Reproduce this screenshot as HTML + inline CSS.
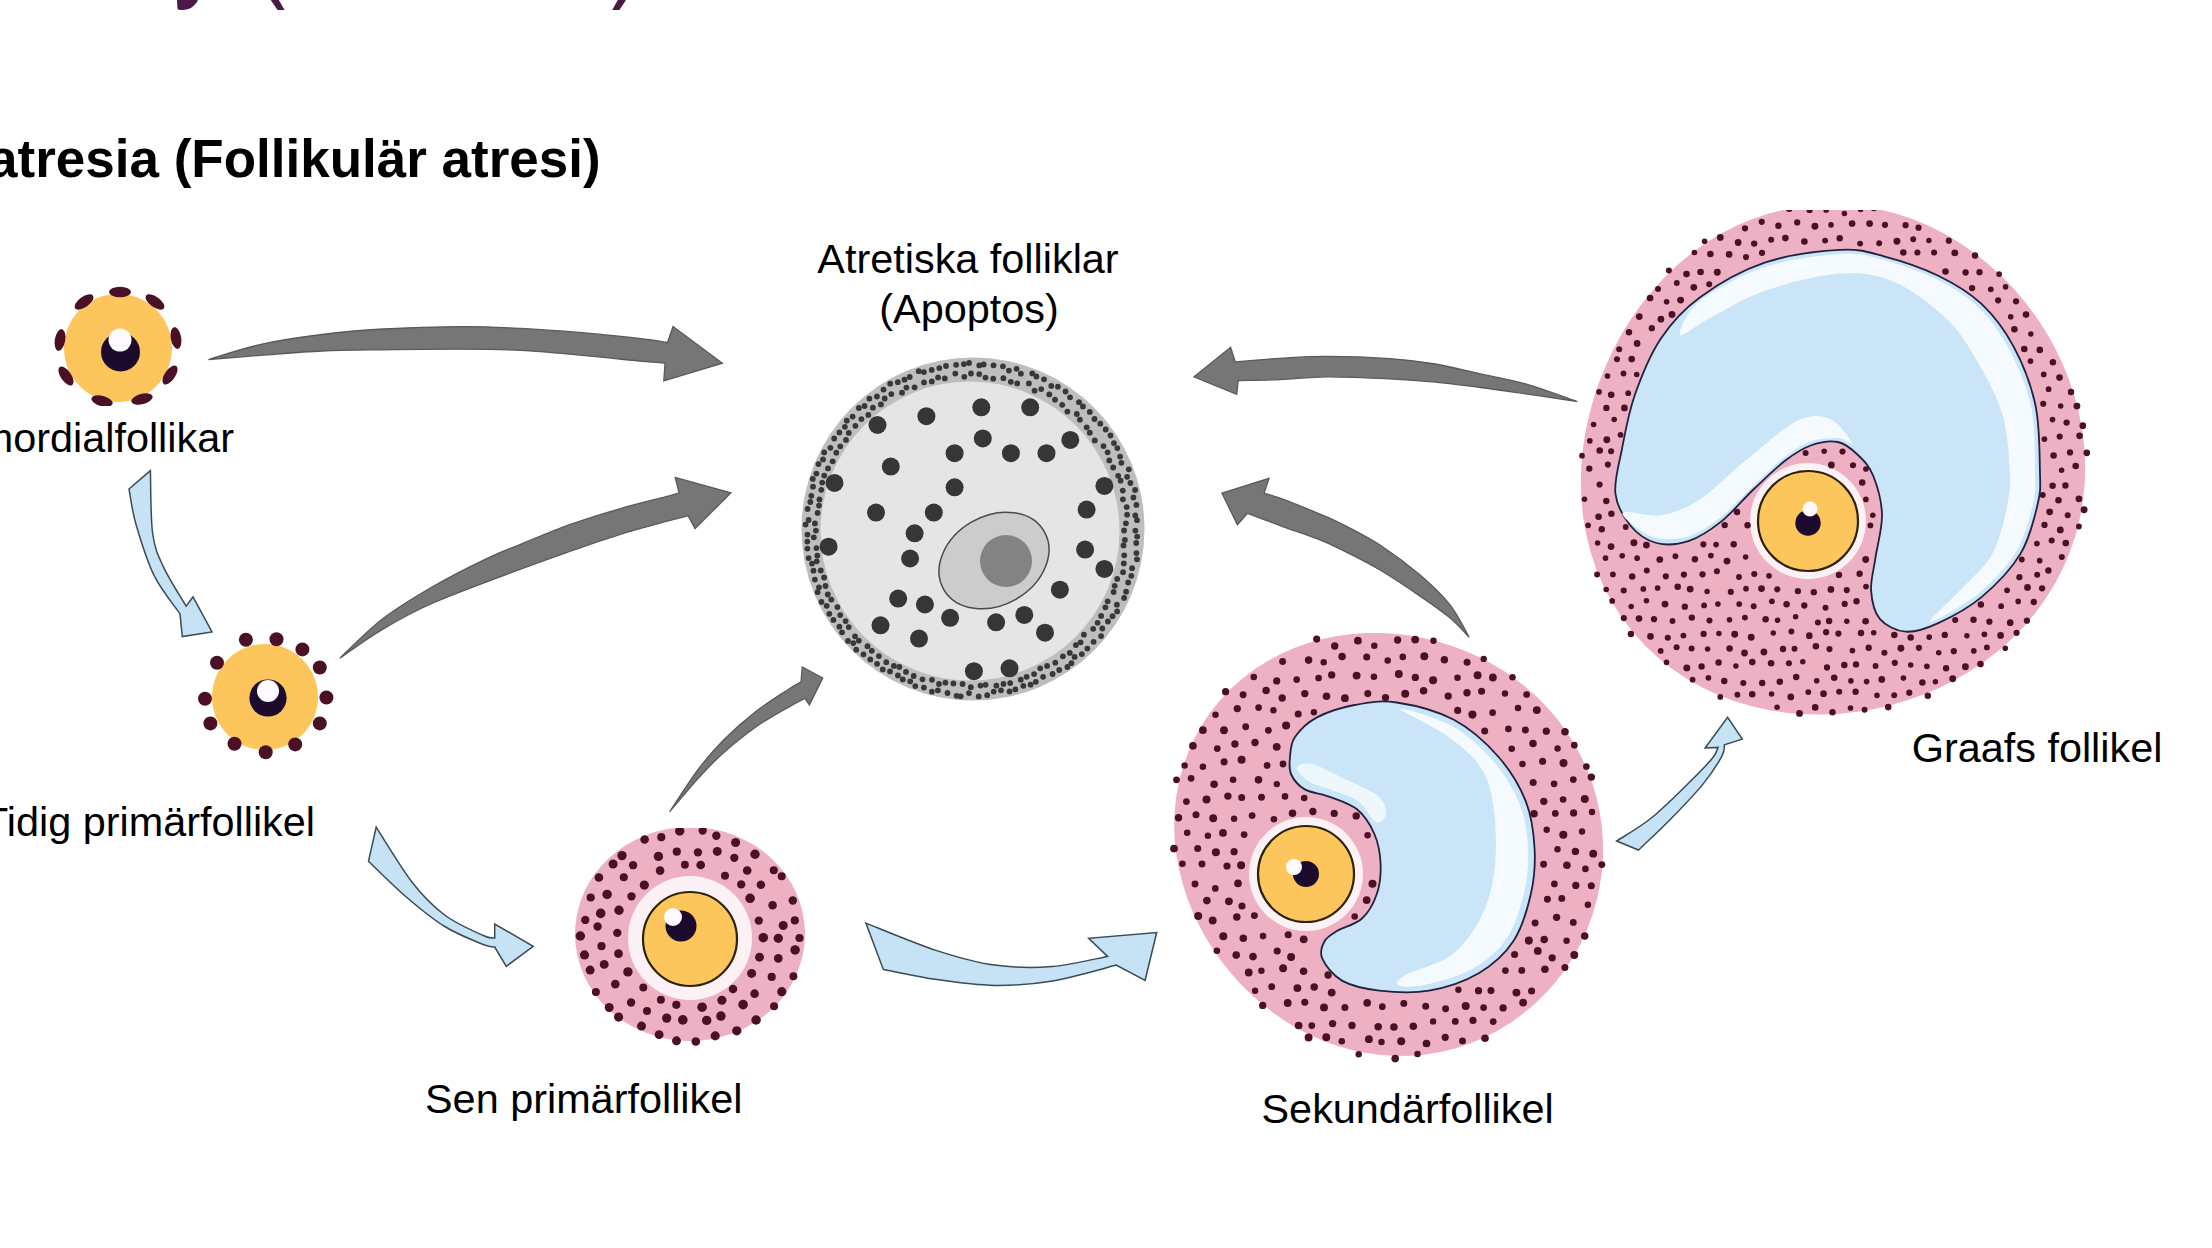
<!DOCTYPE html><html><head><meta charset="utf-8"><style>html,body{margin:0;padding:0;background:#fff;width:2212px;height:1248px;overflow:hidden}svg{position:absolute;left:0;top:0}text{font-family:"Liberation Sans",sans-serif}</style></head><body>
<svg width="2212" height="1248" viewBox="0 0 2212 1248">
<g fill="#4a1947">
<path d="M177,0 L198,0 C195,6 190,10 182,10 C179,10 178,9.5 177.5,9 Z"/>
<path d="M270.7,0 L278.8,0 L284.6,10 L277.6,10 Z"/>
<path d="M617.8,0 L626,0 L619.4,10 L612.2,10 Z"/>
</g>
<text x="-12" y="177" font-size="53" font-weight="bold" fill="#000">atresia (Follikulär atresi)</text>
<circle cx="118" cy="348" r="54" fill="#fcc65d"/>
<g fill="#4a1026">
<ellipse cx="120" cy="292" rx="11" ry="5.2" transform="rotate(0 120 292)"/>
<ellipse cx="84" cy="302" rx="11" ry="5.2" transform="rotate(-35 84 302)"/>
<ellipse cx="155" cy="302" rx="11" ry="5.2" transform="rotate(35 155 302)"/>
<ellipse cx="60" cy="340" rx="11" ry="5.2" transform="rotate(-80 60 340)"/>
<ellipse cx="176" cy="338" rx="11" ry="5.2" transform="rotate(80 176 338)"/>
<ellipse cx="66" cy="376" rx="11" ry="5.2" transform="rotate(-125 66 376)"/>
<ellipse cx="170" cy="375" rx="11" ry="5.2" transform="rotate(125 170 375)"/>
<ellipse cx="102" cy="401" rx="11" ry="5.2" transform="rotate(-165 102 401)"/>
<ellipse cx="142" cy="399" rx="11" ry="5.2" transform="rotate(165 142 399)"/>
</g>
<circle cx="120.5" cy="352" r="19.5" fill="#1c0b2c"/><circle cx="120" cy="340" r="11.5" fill="#fdfbff"/>
<rect x="0" y="406" width="405" height="62" fill="#fff"/>
<circle cx="265" cy="697" r="53" fill="#fcc65d"/>
<g fill="#4a1026">
<circle cx="245.9" cy="639.8" r="7"/>
<circle cx="276.5" cy="639.2" r="7"/>
<circle cx="302.4" cy="649.4" r="7"/>
<circle cx="319.8" cy="667.5" r="7"/>
<circle cx="326.4" cy="697.5" r="7"/>
<circle cx="319.8" cy="723.4" r="7"/>
<circle cx="295.2" cy="744.4" r="7"/>
<circle cx="265.7" cy="752.2" r="7"/>
<circle cx="234.5" cy="743.8" r="7"/>
<circle cx="210.4" cy="723.4" r="7"/>
<circle cx="205.0" cy="698.7" r="7"/>
<circle cx="217.0" cy="662.7" r="7"/>
</g>
<circle cx="268" cy="698" r="18.6" fill="#1c0b2c"/><circle cx="268" cy="691" r="11" fill="#fdfbff"/>
<ellipse cx="690" cy="934" rx="115" ry="107" fill="#eeb1c3"/>
<circle cx="690" cy="938" r="62" fill="#fcf1f5"/>
<g fill="#4a1026">
<circle cx="763.3" cy="937.7" r="4.77"/>
<circle cx="759.5" cy="957.2" r="4.48"/>
<circle cx="751.6" cy="973.4" r="4.51"/>
<circle cx="733.0" cy="989.1" r="4.23"/>
<circle cx="721.9" cy="1000.3" r="4.57"/>
<circle cx="702.1" cy="1007.2" r="4.81"/>
<circle cx="676.3" cy="1004.8" r="4.10"/>
<circle cx="660.9" cy="999.8" r="4.01"/>
<circle cx="643.3" cy="987.4" r="3.99"/>
<circle cx="627.9" cy="971.9" r="4.70"/>
<circle cx="618.5" cy="953.7" r="4.40"/>
<circle cx="617.3" cy="932.9" r="4.20"/>
<circle cx="619.0" cy="910.3" r="4.70"/>
<circle cx="631.5" cy="896.3" r="4.16"/>
<circle cx="644.3" cy="885.1" r="4.63"/>
<circle cx="660.1" cy="870.6" r="4.30"/>
<circle cx="684.9" cy="864.8" r="3.96"/>
<circle cx="700.7" cy="865.0" r="4.37"/>
<circle cx="725.0" cy="875.8" r="4.02"/>
<circle cx="741.2" cy="884.4" r="4.20"/>
<circle cx="750.1" cy="898.3" r="4.81"/>
<circle cx="758.8" cy="920.6" r="4.18"/>
<circle cx="778.3" cy="938.3" r="4.66"/>
<circle cx="778.3" cy="958.3" r="4.35"/>
<circle cx="771.7" cy="976.9" r="4.08"/>
<circle cx="754.6" cy="993.7" r="4.33"/>
<circle cx="743.1" cy="1004.6" r="4.81"/>
<circle cx="720.9" cy="1016.1" r="4.74"/>
<circle cx="706.7" cy="1020.4" r="4.71"/>
<circle cx="682.8" cy="1019.9" r="4.83"/>
<circle cx="666.7" cy="1018.1" r="4.64"/>
<circle cx="647.0" cy="1010.9" r="4.02"/>
<circle cx="631.1" cy="1002.5" r="4.17"/>
<circle cx="615.3" cy="984.1" r="4.36"/>
<circle cx="604.2" cy="964.4" r="4.47"/>
<circle cx="601.5" cy="946.2" r="4.10"/>
<circle cx="597.6" cy="926.5" r="4.18"/>
<circle cx="600.7" cy="913.4" r="4.79"/>
<circle cx="607.1" cy="894.4" r="4.74"/>
<circle cx="623.8" cy="877.3" r="4.05"/>
<circle cx="633.1" cy="865.2" r="4.17"/>
<circle cx="658.4" cy="856.4" r="4.68"/>
<circle cx="676.8" cy="851.7" r="4.11"/>
<circle cx="697.9" cy="852.3" r="4.16"/>
<circle cx="717.3" cy="851.4" r="4.50"/>
<circle cx="734.3" cy="857.8" r="4.14"/>
<circle cx="747.2" cy="870.5" r="4.35"/>
<circle cx="760.9" cy="884.8" r="4.28"/>
<circle cx="772.6" cy="905.2" r="4.28"/>
<circle cx="783.2" cy="925.5" r="4.54"/>
<circle cx="799.5" cy="938.0" r="4.08"/>
<circle cx="795.1" cy="949.9" r="4.76"/>
<circle cx="793.4" cy="976.3" r="3.98"/>
<circle cx="781.8" cy="991.7" r="4.60"/>
<circle cx="774.1" cy="1006.2" r="4.03"/>
<circle cx="756.1" cy="1020.0" r="4.75"/>
<circle cx="736.8" cy="1030.8" r="4.66"/>
<circle cx="715.2" cy="1035.9" r="4.56"/>
<circle cx="695.8" cy="1041.5" r="4.33"/>
<circle cx="676.5" cy="1040.8" r="4.46"/>
<circle cx="659.1" cy="1034.6" r="4.47"/>
<circle cx="641.5" cy="1026.1" r="4.52"/>
<circle cx="618.6" cy="1017.1" r="4.60"/>
<circle cx="609.2" cy="1007.5" r="4.47"/>
<circle cx="595.9" cy="992.1" r="4.03"/>
<circle cx="590.1" cy="970.1" r="4.49"/>
<circle cx="584.5" cy="954.9" r="4.57"/>
<circle cx="580.3" cy="936.0" r="4.77"/>
<circle cx="585.3" cy="919.9" r="4.22"/>
<circle cx="590.7" cy="897.5" r="4.11"/>
<circle cx="598.9" cy="877.5" r="4.35"/>
<circle cx="613.1" cy="864.0" r="4.55"/>
<circle cx="622.0" cy="855.6" r="4.67"/>
<circle cx="644.6" cy="839.5" r="4.30"/>
<circle cx="661.3" cy="837.2" r="4.08"/>
<circle cx="679.7" cy="831.0" r="4.71"/>
<circle cx="702.7" cy="830.6" r="4.20"/>
<circle cx="716.3" cy="835.8" r="4.20"/>
<circle cx="735.6" cy="842.5" r="4.51"/>
<circle cx="755.0" cy="854.2" r="4.70"/>
<circle cx="773.8" cy="870.2" r="4.03"/>
<circle cx="781.7" cy="876.2" r="4.00"/>
<circle cx="792.8" cy="900.5" r="4.23"/>
<circle cx="794.8" cy="920.4" r="4.08"/>
</g>
<rect x="560" y="790" width="260" height="38" fill="#fff"/>
<circle cx="690" cy="939" r="47" fill="#fcc65d" stroke="#2b2208" stroke-width="2.2"/>
<circle cx="681" cy="926" r="15.5" fill="#1c0b2c"/><circle cx="673" cy="917" r="9" fill="#fdfbff"/>
<circle cx="973" cy="529" r="171.5" fill="#bebebe"/>
<circle cx="970" cy="531" r="149.5" fill="#e5e5e5"/>
<g fill="#383838">
<circle cx="1124.1" cy="530.5" r="2.9"/>
<circle cx="1124.9" cy="539.9" r="2.9"/>
<circle cx="1123.5" cy="545.4" r="2.9"/>
<circle cx="1124.2" cy="555.3" r="2.9"/>
<circle cx="1123.8" cy="563.4" r="2.9"/>
<circle cx="1123.1" cy="572.2" r="2.9"/>
<circle cx="1117.2" cy="578.9" r="2.9"/>
<circle cx="1114.7" cy="585.8" r="2.9"/>
<circle cx="1113.6" cy="592.0" r="2.9"/>
<circle cx="1107.7" cy="601.3" r="2.9"/>
<circle cx="1105.4" cy="607.3" r="2.9"/>
<circle cx="1101.1" cy="615.9" r="2.9"/>
<circle cx="1097.6" cy="622.8" r="2.9"/>
<circle cx="1093.2" cy="628.8" r="2.9"/>
<circle cx="1083.9" cy="634.7" r="2.9"/>
<circle cx="1080.6" cy="642.3" r="2.9"/>
<circle cx="1075.9" cy="645.1" r="2.9"/>
<circle cx="1069.8" cy="652.9" r="2.9"/>
<circle cx="1062.9" cy="656.3" r="2.9"/>
<circle cx="1055.3" cy="662.7" r="2.9"/>
<circle cx="1047.1" cy="665.9" r="2.9"/>
<circle cx="1040.2" cy="668.3" r="2.9"/>
<circle cx="1034.1" cy="674.1" r="2.9"/>
<circle cx="1026.6" cy="676.8" r="2.9"/>
<circle cx="1020.8" cy="679.7" r="2.9"/>
<circle cx="1010.2" cy="683.1" r="2.9"/>
<circle cx="1003.5" cy="683.9" r="2.9"/>
<circle cx="996.4" cy="685.7" r="2.9"/>
<circle cx="985.6" cy="684.8" r="2.9"/>
<circle cx="980.5" cy="685.6" r="2.9"/>
<circle cx="970.8" cy="687.2" r="2.9"/>
<circle cx="962.6" cy="684.0" r="2.9"/>
<circle cx="953.4" cy="683.4" r="2.9"/>
<circle cx="945.4" cy="682.7" r="2.9"/>
<circle cx="939.0" cy="684.0" r="2.9"/>
<circle cx="932.0" cy="679.8" r="2.9"/>
<circle cx="922.5" cy="679.3" r="2.9"/>
<circle cx="913.7" cy="676.0" r="2.9"/>
<circle cx="906.0" cy="671.9" r="2.9"/>
<circle cx="899.3" cy="666.9" r="2.9"/>
<circle cx="893.9" cy="665.9" r="2.9"/>
<circle cx="886.3" cy="662.2" r="2.9"/>
<circle cx="878.9" cy="656.1" r="2.9"/>
<circle cx="871.8" cy="650.8" r="2.9"/>
<circle cx="867.5" cy="646.2" r="2.9"/>
<circle cx="858.8" cy="640.7" r="2.9"/>
<circle cx="855.0" cy="636.3" r="2.9"/>
<circle cx="848.7" cy="627.1" r="2.9"/>
<circle cx="845.6" cy="621.1" r="2.9"/>
<circle cx="840.2" cy="615.1" r="2.9"/>
<circle cx="837.4" cy="607.1" r="2.9"/>
<circle cx="831.3" cy="599.6" r="2.9"/>
<circle cx="827.8" cy="594.5" r="2.9"/>
<circle cx="825.5" cy="586.0" r="2.9"/>
<circle cx="824.1" cy="577.5" r="2.9"/>
<circle cx="820.8" cy="570.5" r="2.9"/>
<circle cx="816.7" cy="561.3" r="2.9"/>
<circle cx="817.3" cy="555.6" r="2.9"/>
<circle cx="816.4" cy="548.1" r="2.9"/>
<circle cx="813.8" cy="537.3" r="2.9"/>
<circle cx="815.9" cy="530.6" r="2.9"/>
<circle cx="814.9" cy="523.4" r="2.9"/>
<circle cx="817.6" cy="512.9" r="2.9"/>
<circle cx="819.0" cy="505.6" r="2.9"/>
<circle cx="819.4" cy="499.5" r="2.9"/>
<circle cx="821.3" cy="489.8" r="2.9"/>
<circle cx="822.2" cy="482.6" r="2.9"/>
<circle cx="824.2" cy="475.6" r="2.9"/>
<circle cx="828.0" cy="468.4" r="2.9"/>
<circle cx="832.7" cy="461.3" r="2.9"/>
<circle cx="836.3" cy="452.7" r="2.9"/>
<circle cx="840.3" cy="446.3" r="2.9"/>
<circle cx="846.0" cy="439.9" r="2.9"/>
<circle cx="848.8" cy="432.9" r="2.9"/>
<circle cx="855.4" cy="425.8" r="2.9"/>
<circle cx="861.4" cy="419.1" r="2.9"/>
<circle cx="868.3" cy="414.9" r="2.9"/>
<circle cx="872.9" cy="407.7" r="2.9"/>
<circle cx="880.9" cy="404.4" r="2.9"/>
<circle cx="884.7" cy="398.5" r="2.9"/>
<circle cx="891.3" cy="394.1" r="2.9"/>
<circle cx="902.0" cy="392.7" r="2.9"/>
<circle cx="906.4" cy="387.6" r="2.9"/>
<circle cx="914.6" cy="387.3" r="2.9"/>
<circle cx="924.0" cy="382.4" r="2.9"/>
<circle cx="931.8" cy="381.5" r="2.9"/>
<circle cx="938.1" cy="377.4" r="2.9"/>
<circle cx="944.8" cy="378.4" r="2.9"/>
<circle cx="955.3" cy="373.6" r="2.9"/>
<circle cx="964.3" cy="376.8" r="2.9"/>
<circle cx="971.0" cy="373.5" r="2.9"/>
<circle cx="979.2" cy="374.1" r="2.9"/>
<circle cx="985.5" cy="377.6" r="2.9"/>
<circle cx="993.2" cy="378.7" r="2.9"/>
<circle cx="1003.4" cy="378.2" r="2.9"/>
<circle cx="1010.8" cy="381.8" r="2.9"/>
<circle cx="1017.2" cy="383.4" r="2.9"/>
<circle cx="1028.9" cy="383.4" r="2.9"/>
<circle cx="1034.6" cy="390.7" r="2.9"/>
<circle cx="1041.2" cy="389.1" r="2.9"/>
<circle cx="1049.3" cy="394.4" r="2.9"/>
<circle cx="1055.0" cy="399.7" r="2.9"/>
<circle cx="1062.2" cy="404.8" r="2.9"/>
<circle cx="1067.4" cy="411.6" r="2.9"/>
<circle cx="1076.8" cy="414.0" r="2.9"/>
<circle cx="1079.9" cy="419.7" r="2.9"/>
<circle cx="1086.7" cy="427.3" r="2.9"/>
<circle cx="1089.8" cy="432.7" r="2.9"/>
<circle cx="1094.8" cy="440.4" r="2.9"/>
<circle cx="1103.5" cy="446.1" r="2.9"/>
<circle cx="1107.6" cy="452.3" r="2.9"/>
<circle cx="1109.3" cy="460.4" r="2.9"/>
<circle cx="1113.2" cy="467.5" r="2.9"/>
<circle cx="1118.2" cy="475.8" r="2.9"/>
<circle cx="1120.6" cy="480.7" r="2.9"/>
<circle cx="1122.8" cy="490.6" r="2.9"/>
<circle cx="1122.9" cy="499.3" r="2.9"/>
<circle cx="1126.7" cy="507.2" r="2.9"/>
<circle cx="1127.1" cy="514.7" r="2.9"/>
<circle cx="1125.9" cy="523.3" r="2.9"/>
<circle cx="1135.4" cy="530.6" r="2.9"/>
<circle cx="1137.2" cy="536.6" r="2.9"/>
<circle cx="1136.2" cy="543.0" r="2.9"/>
<circle cx="1136.4" cy="553.1" r="2.9"/>
<circle cx="1137.0" cy="559.3" r="2.9"/>
<circle cx="1132.1" cy="568.2" r="2.9"/>
<circle cx="1131.3" cy="575.8" r="2.9"/>
<circle cx="1128.2" cy="582.5" r="2.9"/>
<circle cx="1126.1" cy="591.7" r="2.9"/>
<circle cx="1124.1" cy="597.9" r="2.9"/>
<circle cx="1116.9" cy="604.7" r="2.9"/>
<circle cx="1117.1" cy="611.4" r="2.9"/>
<circle cx="1112.5" cy="616.2" r="2.9"/>
<circle cx="1107.9" cy="621.5" r="2.9"/>
<circle cx="1102.3" cy="628.5" r="2.9"/>
<circle cx="1101.1" cy="636.1" r="2.9"/>
<circle cx="1093.6" cy="641.8" r="2.9"/>
<circle cx="1087.3" cy="648.6" r="2.9"/>
<circle cx="1081.8" cy="654.1" r="2.9"/>
<circle cx="1074.6" cy="656.9" r="2.9"/>
<circle cx="1071.4" cy="663.2" r="2.9"/>
<circle cx="1067.4" cy="667.0" r="2.9"/>
<circle cx="1059.2" cy="670.0" r="2.9"/>
<circle cx="1052.6" cy="674.0" r="2.9"/>
<circle cx="1043.1" cy="676.8" r="2.9"/>
<circle cx="1035.8" cy="681.8" r="2.9"/>
<circle cx="1030.6" cy="684.7" r="2.9"/>
<circle cx="1023.3" cy="685.8" r="2.9"/>
<circle cx="1015.4" cy="689.4" r="2.9"/>
<circle cx="1009.6" cy="691.5" r="2.9"/>
<circle cx="1001.0" cy="690.3" r="2.9"/>
<circle cx="993.7" cy="691.6" r="2.9"/>
<circle cx="987.2" cy="695.2" r="2.9"/>
<circle cx="978.7" cy="696.4" r="2.9"/>
<circle cx="969.0" cy="693.1" r="2.9"/>
<circle cx="960.7" cy="696.3" r="2.9"/>
<circle cx="956.6" cy="695.8" r="2.9"/>
<circle cx="947.5" cy="693.0" r="2.9"/>
<circle cx="937.9" cy="690.3" r="2.9"/>
<circle cx="931.9" cy="691.7" r="2.9"/>
<circle cx="923.9" cy="687.6" r="2.9"/>
<circle cx="915.3" cy="686.1" r="2.9"/>
<circle cx="910.2" cy="681.3" r="2.9"/>
<circle cx="902.8" cy="679.4" r="2.9"/>
<circle cx="897.9" cy="675.4" r="2.9"/>
<circle cx="890.0" cy="671.4" r="2.9"/>
<circle cx="882.8" cy="669.4" r="2.9"/>
<circle cx="877.1" cy="663.8" r="2.9"/>
<circle cx="870.3" cy="659.4" r="2.9"/>
<circle cx="863.5" cy="654.3" r="2.9"/>
<circle cx="856.2" cy="649.7" r="2.9"/>
<circle cx="853.3" cy="643.1" r="2.9"/>
<circle cx="848.0" cy="640.9" r="2.9"/>
<circle cx="842.0" cy="632.3" r="2.9"/>
<circle cx="839.4" cy="626.7" r="2.9"/>
<circle cx="833.4" cy="619.9" r="2.9"/>
<circle cx="829.3" cy="613.8" r="2.9"/>
<circle cx="826.7" cy="605.8" r="2.9"/>
<circle cx="821.5" cy="601.9" r="2.9"/>
<circle cx="817.6" cy="592.2" r="2.9"/>
<circle cx="819.0" cy="587.3" r="2.9"/>
<circle cx="814.9" cy="579.6" r="2.9"/>
<circle cx="813.5" cy="570.7" r="2.9"/>
<circle cx="812.0" cy="563.6" r="2.9"/>
<circle cx="808.6" cy="558.1" r="2.9"/>
<circle cx="807.4" cy="548.6" r="2.9"/>
<circle cx="807.3" cy="541.6" r="2.9"/>
<circle cx="807.5" cy="534.6" r="2.9"/>
<circle cx="805.6" cy="524.6" r="2.9"/>
<circle cx="808.6" cy="520.0" r="2.9"/>
<circle cx="807.6" cy="509.0" r="2.9"/>
<circle cx="810.3" cy="502.0" r="2.9"/>
<circle cx="811.3" cy="495.8" r="2.9"/>
<circle cx="813.0" cy="486.7" r="2.9"/>
<circle cx="812.8" cy="478.9" r="2.9"/>
<circle cx="816.4" cy="473.6" r="2.9"/>
<circle cx="818.5" cy="464.1" r="2.9"/>
<circle cx="823.0" cy="459.4" r="2.9"/>
<circle cx="824.2" cy="452.4" r="2.9"/>
<circle cx="830.4" cy="447.8" r="2.9"/>
<circle cx="834.2" cy="438.5" r="2.9"/>
<circle cx="839.4" cy="432.4" r="2.9"/>
<circle cx="844.9" cy="426.8" r="2.9"/>
<circle cx="846.8" cy="420.7" r="2.9"/>
<circle cx="852.6" cy="416.6" r="2.9"/>
<circle cx="858.9" cy="408.0" r="2.9"/>
<circle cx="864.6" cy="406.0" r="2.9"/>
<circle cx="869.4" cy="398.7" r="2.9"/>
<circle cx="876.9" cy="396.5" r="2.9"/>
<circle cx="883.5" cy="389.6" r="2.9"/>
<circle cx="890.2" cy="383.7" r="2.9"/>
<circle cx="897.8" cy="382.2" r="2.9"/>
<circle cx="904.5" cy="379.7" r="2.9"/>
<circle cx="909.7" cy="377.0" r="2.9"/>
<circle cx="918.7" cy="371.2" r="2.9"/>
<circle cx="923.9" cy="372.1" r="2.9"/>
<circle cx="931.7" cy="369.9" r="2.9"/>
<circle cx="939.3" cy="368.1" r="2.9"/>
<circle cx="946.0" cy="366.0" r="2.9"/>
<circle cx="956.1" cy="364.8" r="2.9"/>
<circle cx="963.9" cy="364.1" r="2.9"/>
<circle cx="969.1" cy="363.0" r="2.9"/>
<circle cx="979.3" cy="365.4" r="2.9"/>
<circle cx="983.7" cy="364.5" r="2.9"/>
<circle cx="993.5" cy="365.3" r="2.9"/>
<circle cx="1002.9" cy="366.3" r="2.9"/>
<circle cx="1008.9" cy="370.6" r="2.9"/>
<circle cx="1016.6" cy="368.8" r="2.9"/>
<circle cx="1020.9" cy="373.7" r="2.9"/>
<circle cx="1032.3" cy="373.4" r="2.9"/>
<circle cx="1036.4" cy="376.5" r="2.9"/>
<circle cx="1044.0" cy="379.3" r="2.9"/>
<circle cx="1051.3" cy="385.9" r="2.9"/>
<circle cx="1057.9" cy="386.7" r="2.9"/>
<circle cx="1065.5" cy="391.5" r="2.9"/>
<circle cx="1070.0" cy="397.3" r="2.9"/>
<circle cx="1079.0" cy="402.2" r="2.9"/>
<circle cx="1082.9" cy="406.5" r="2.9"/>
<circle cx="1089.8" cy="411.9" r="2.9"/>
<circle cx="1094.5" cy="419.0" r="2.9"/>
<circle cx="1100.3" cy="423.7" r="2.9"/>
<circle cx="1105.7" cy="429.5" r="2.9"/>
<circle cx="1110.5" cy="435.5" r="2.9"/>
<circle cx="1113.9" cy="443.1" r="2.9"/>
<circle cx="1117.3" cy="448.1" r="2.9"/>
<circle cx="1120.1" cy="456.6" r="2.9"/>
<circle cx="1121.4" cy="462.8" r="2.9"/>
<circle cx="1128.8" cy="469.3" r="2.9"/>
<circle cx="1127.1" cy="476.8" r="2.9"/>
<circle cx="1130.4" cy="483.0" r="2.9"/>
<circle cx="1135.1" cy="490.0" r="2.9"/>
<circle cx="1133.4" cy="497.5" r="2.9"/>
<circle cx="1136.4" cy="504.9" r="2.9"/>
<circle cx="1135.3" cy="515.5" r="2.9"/>
<circle cx="1137.0" cy="520.2" r="2.9"/>
</g>
<ellipse cx="994" cy="560.5" rx="58" ry="44.5" transform="rotate(-30 994 560.5)" fill="#cccccc" stroke="#4a4a4a" stroke-width="1.5"/>
<circle cx="1006" cy="561" r="26" fill="#838383"/>
<g fill="#363636">
<circle cx="926.4" cy="416.2" r="9"/>
<circle cx="981.3" cy="407.3" r="9"/>
<circle cx="1030.2" cy="407.3" r="9"/>
<circle cx="877.5" cy="425.0" r="9"/>
<circle cx="982.8" cy="438.4" r="9"/>
<circle cx="1070.3" cy="439.9" r="9"/>
<circle cx="954.6" cy="453.2" r="9"/>
<circle cx="1010.9" cy="453.2" r="9"/>
<circle cx="1046.5" cy="453.2" r="9"/>
<circle cx="890.8" cy="466.6" r="9"/>
<circle cx="834.5" cy="482.9" r="9"/>
<circle cx="954.6" cy="487.3" r="9"/>
<circle cx="1104.4" cy="485.9" r="9"/>
<circle cx="876.0" cy="512.6" r="9"/>
<circle cx="933.8" cy="512.6" r="9"/>
<circle cx="1086.6" cy="509.6" r="9"/>
<circle cx="914.6" cy="533.3" r="9"/>
<circle cx="828.6" cy="546.7" r="9"/>
<circle cx="1085.1" cy="549.6" r="9"/>
<circle cx="910.1" cy="558.5" r="9"/>
<circle cx="1104.4" cy="568.9" r="9"/>
<circle cx="1059.9" cy="589.7" r="9"/>
<circle cx="898.2" cy="598.6" r="9"/>
<circle cx="924.9" cy="604.5" r="9"/>
<circle cx="950.1" cy="617.8" r="9"/>
<circle cx="1024.3" cy="614.9" r="9"/>
<circle cx="996.1" cy="622.3" r="9"/>
<circle cx="880.5" cy="625.3" r="9"/>
<circle cx="1045.0" cy="632.7" r="9"/>
<circle cx="919.0" cy="638.6" r="9"/>
<circle cx="973.9" cy="671.2" r="9"/>
<circle cx="1009.5" cy="668.3" r="9"/>
</g>
<path d="M1602.9,841.6 L1603.0,856.6 L1601.9,871.6 L1599.7,886.5 L1596.5,901.2 L1592.2,915.7 L1586.9,929.9 L1580.6,943.7 L1573.2,957.0 L1564.9,969.8 L1555.7,981.9 L1545.6,993.3 L1534.7,1004.0 L1523.0,1013.8 L1510.7,1022.7 L1497.6,1030.7 L1484.1,1037.6 L1470.0,1043.5 L1455.6,1048.2 L1440.9,1051.9 L1426.0,1054.4 L1411.0,1055.7 L1395.9,1055.9 L1381.0,1055.0 L1366.2,1053.0 L1351.7,1050.0 L1337.5,1046.0 L1323.6,1041.0 L1310.2,1035.1 L1297.3,1028.4 L1284.9,1020.9 L1273.0,1012.7 L1261.7,1003.8 L1250.9,994.3 L1240.7,984.2 L1231.2,973.5 L1222.2,962.3 L1213.9,950.6 L1206.2,938.4 L1199.3,925.8 L1193.1,912.7 L1187.6,899.1 L1183.1,885.2 L1179.4,870.9 L1176.6,856.4 L1174.9,841.6 L1174.2,826.6 L1174.7,811.5 L1176.2,796.5 L1179.0,781.5 L1183.0,766.8 L1188.1,752.4 L1194.5,738.4 L1201.9,725.0 L1210.5,712.3 L1220.1,700.3 L1230.6,689.1 L1242.0,678.9 L1254.1,669.6 L1266.9,661.4 L1280.3,654.2 L1294.1,648.1 L1308.2,643.0 L1322.6,639.0 L1337.2,636.0 L1351.9,634.0 L1366.5,633.0 L1381.2,633.0 L1395.7,633.9 L1410.1,635.6 L1424.3,638.2 L1438.3,641.7 L1452.0,645.9 L1465.4,651.0 L1478.5,656.8 L1491.3,663.4 L1503.6,670.8 L1515.4,679.0 L1526.8,687.9 L1537.6,697.6 L1547.7,707.9 L1557.2,719.0 L1565.9,730.7 L1573.8,743.0 L1580.9,755.9 L1587.0,769.3 L1592.3,783.1 L1596.5,797.3 L1599.7,811.9 L1601.9,826.6Z" fill="#eeb1c3"/>
<circle cx="1306" cy="874" r="57" fill="#fcf1f5"/>
<g fill="#4a1026">
<circle cx="1316.7" cy="639.1" r="3.58"/><circle cx="1334.7" cy="646.0" r="3.67"/><circle cx="1357.9" cy="640.7" r="3.85"/><circle cx="1374.3" cy="645.7" r="3.25"/><circle cx="1397.6" cy="640.0" r="3.64"/><circle cx="1415.2" cy="639.6" r="3.89"/><circle cx="1433.5" cy="640.8" r="3.23"/><circle cx="1282.6" cy="661.5" r="3.45"/><circle cx="1308.6" cy="660.1" r="3.79"/><circle cx="1323.7" cy="662.3" r="3.25"/><circle cx="1342.1" cy="656.4" r="3.75"/><circle cx="1366.7" cy="657.1" r="3.52"/><circle cx="1387.7" cy="660.4" r="3.25"/><circle cx="1402.8" cy="656.9" r="3.28"/><circle cx="1424.3" cy="656.2" r="3.96"/><circle cx="1444.4" cy="659.7" r="3.73"/><circle cx="1467.1" cy="662.2" r="3.50"/><circle cx="1483.7" cy="658.9" r="3.18"/><circle cx="1253.8" cy="677.0" r="3.29"/><circle cx="1276.7" cy="680.9" r="3.61"/><circle cx="1296.7" cy="679.6" r="3.34"/><circle cx="1318.6" cy="678.0" r="3.34"/><circle cx="1331.7" cy="674.9" r="3.67"/><circle cx="1356.6" cy="675.6" r="3.97"/><circle cx="1373.9" cy="676.7" r="3.28"/><circle cx="1398.8" cy="674.0" r="3.95"/><circle cx="1415.3" cy="677.4" r="3.65"/><circle cx="1433.1" cy="680.2" r="4.03"/><circle cx="1457.5" cy="677.8" r="3.27"/><circle cx="1477.6" cy="675.3" r="3.94"/><circle cx="1492.9" cy="677.5" r="3.89"/><circle cx="1512.5" cy="677.3" r="3.23"/><circle cx="1225.6" cy="691.7" r="3.62"/><circle cx="1243.1" cy="694.8" r="3.45"/><circle cx="1266.1" cy="690.6" r="3.75"/><circle cx="1282.2" cy="698.0" r="3.69"/><circle cx="1304.8" cy="693.6" r="3.71"/><circle cx="1326.5" cy="696.3" r="3.82"/><circle cx="1344.9" cy="698.2" r="3.89"/><circle cx="1367.8" cy="693.6" r="3.54"/><circle cx="1385.5" cy="697.5" r="3.62"/><circle cx="1405.2" cy="693.7" r="3.95"/><circle cx="1423.6" cy="690.7" r="3.79"/><circle cx="1448.2" cy="696.1" r="3.68"/><circle cx="1467.0" cy="692.7" r="3.68"/><circle cx="1481.6" cy="691.3" r="3.55"/><circle cx="1505.0" cy="693.5" r="3.21"/><circle cx="1526.6" cy="694.5" r="3.37"/><circle cx="1215.5" cy="714.8" r="3.25"/><circle cx="1237.3" cy="708.6" r="3.63"/><circle cx="1258.6" cy="707.6" r="3.38"/><circle cx="1273.4" cy="710.2" r="3.22"/><circle cx="1298.2" cy="714.1" r="3.51"/><circle cx="1313.9" cy="712.3" r="3.21"/><circle cx="1457.7" cy="710.4" r="3.58"/><circle cx="1472.4" cy="714.6" r="4.03"/><circle cx="1492.6" cy="712.7" r="3.33"/><circle cx="1518.0" cy="708.0" r="3.26"/><circle cx="1536.8" cy="710.1" r="3.95"/><circle cx="1202.9" cy="730.2" r="3.85"/><circle cx="1224.0" cy="730.2" r="3.93"/><circle cx="1245.7" cy="726.8" r="3.43"/><circle cx="1268.4" cy="730.3" r="3.41"/><circle cx="1286.1" cy="725.6" r="4.02"/><circle cx="1484.7" cy="730.9" r="3.50"/><circle cx="1508.4" cy="728.9" r="3.32"/><circle cx="1525.4" cy="730.1" r="3.48"/><circle cx="1546.3" cy="731.2" r="3.61"/><circle cx="1565.0" cy="731.7" r="3.76"/><circle cx="1192.9" cy="745.8" r="3.84"/><circle cx="1217.3" cy="748.6" r="3.37"/><circle cx="1234.9" cy="744.0" r="3.67"/><circle cx="1255.0" cy="742.5" r="3.68"/><circle cx="1276.7" cy="746.8" r="3.92"/><circle cx="1511.7" cy="748.8" r="3.32"/><circle cx="1533.0" cy="743.5" r="3.76"/><circle cx="1557.6" cy="748.5" r="3.22"/><circle cx="1574.3" cy="745.2" r="3.35"/><circle cx="1184.6" cy="765.5" r="3.20"/><circle cx="1202.9" cy="766.7" r="3.29"/><circle cx="1224.1" cy="761.9" r="3.53"/><circle cx="1241.6" cy="759.8" r="4.03"/><circle cx="1267.1" cy="765.4" r="3.37"/><circle cx="1283.0" cy="764.0" r="3.38"/><circle cx="1522.5" cy="764.0" r="3.31"/><circle cx="1542.6" cy="761.3" r="3.57"/><circle cx="1563.5" cy="763.1" r="4.03"/><circle cx="1586.4" cy="766.5" r="3.34"/><circle cx="1176.5" cy="779.8" r="3.41"/><circle cx="1191.1" cy="778.3" r="3.39"/><circle cx="1214.1" cy="784.3" r="3.79"/><circle cx="1233.1" cy="779.8" r="3.30"/><circle cx="1258.5" cy="779.8" r="3.83"/><circle cx="1276.8" cy="784.1" r="3.19"/><circle cx="1533.2" cy="782.6" r="3.52"/><circle cx="1554.1" cy="783.8" r="3.36"/><circle cx="1573.3" cy="779.6" r="3.35"/><circle cx="1591.3" cy="777.1" r="3.71"/><circle cx="1186.4" cy="801.6" r="3.35"/><circle cx="1206.5" cy="799.5" r="3.99"/><circle cx="1227.9" cy="796.1" r="3.71"/><circle cx="1241.7" cy="797.6" r="3.51"/><circle cx="1261.5" cy="797.3" r="3.45"/><circle cx="1285.0" cy="796.4" r="3.31"/><circle cx="1304.2" cy="798.0" r="3.31"/><circle cx="1543.8" cy="801.3" r="3.66"/><circle cx="1563.1" cy="799.5" r="3.33"/><circle cx="1584.8" cy="799.1" r="3.99"/><circle cx="1178.5" cy="817.7" r="3.71"/><circle cx="1196.0" cy="814.8" r="3.53"/><circle cx="1213.2" cy="818.2" r="3.93"/><circle cx="1234.1" cy="818.8" r="3.20"/><circle cx="1252.1" cy="815.6" r="3.43"/><circle cx="1273.9" cy="819.3" r="3.30"/><circle cx="1292.5" cy="813.3" r="3.76"/><circle cx="1312.9" cy="811.5" r="3.64"/><circle cx="1334.2" cy="813.4" r="3.59"/><circle cx="1356.2" cy="815.9" r="3.71"/><circle cx="1534.0" cy="813.8" r="3.82"/><circle cx="1555.3" cy="813.4" r="3.38"/><circle cx="1573.6" cy="812.9" r="3.61"/><circle cx="1592.0" cy="812.0" r="3.23"/><circle cx="1187.2" cy="832.7" r="3.31"/><circle cx="1207.9" cy="835.8" r="3.21"/><circle cx="1223.0" cy="832.9" r="3.86"/><circle cx="1244.1" cy="834.6" r="3.39"/><circle cx="1367.6" cy="835.2" r="3.28"/><circle cx="1546.7" cy="829.8" r="3.20"/><circle cx="1563.3" cy="834.7" r="4.03"/><circle cx="1582.0" cy="831.5" r="3.19"/><circle cx="1174.0" cy="848.6" r="3.86"/><circle cx="1197.7" cy="848.4" r="3.51"/><circle cx="1215.9" cy="852.3" r="4.02"/><circle cx="1234.1" cy="851.7" r="3.64"/><circle cx="1557.5" cy="849.3" r="3.22"/><circle cx="1575.4" cy="851.4" r="3.71"/><circle cx="1593.2" cy="853.7" r="3.92"/><circle cx="1182.4" cy="863.7" r="3.31"/><circle cx="1202.0" cy="864.1" r="3.48"/><circle cx="1227.0" cy="866.0" r="3.61"/><circle cx="1241.1" cy="865.2" r="4.00"/><circle cx="1543.6" cy="864.2" r="3.46"/><circle cx="1566.9" cy="865.2" r="3.81"/><circle cx="1585.4" cy="868.9" r="3.32"/><circle cx="1601.8" cy="864.6" r="3.47"/><circle cx="1195.0" cy="884.0" r="3.45"/><circle cx="1215.3" cy="888.4" r="3.34"/><circle cx="1238.0" cy="883.4" r="3.82"/><circle cx="1372.5" cy="883.7" r="4.02"/><circle cx="1554.4" cy="883.9" r="3.37"/><circle cx="1575.8" cy="885.4" r="3.61"/><circle cx="1591.3" cy="885.8" r="3.55"/><circle cx="1206.9" cy="900.6" r="3.80"/><circle cx="1228.9" cy="901.3" r="3.92"/><circle cx="1242.0" cy="906.0" r="3.59"/><circle cx="1366.7" cy="900.1" r="3.87"/><circle cx="1547.4" cy="899.3" r="3.48"/><circle cx="1561.8" cy="898.4" r="3.47"/><circle cx="1587.9" cy="904.8" r="3.27"/><circle cx="1198.2" cy="916.0" r="4.02"/><circle cx="1212.7" cy="920.5" r="3.93"/><circle cx="1236.8" cy="917.0" r="3.75"/><circle cx="1254.4" cy="915.6" r="3.46"/><circle cx="1354.7" cy="916.5" r="3.27"/><circle cx="1535.1" cy="923.0" r="3.47"/><circle cx="1556.6" cy="917.3" r="3.67"/><circle cx="1573.3" cy="922.4" r="3.42"/><circle cx="1223.3" cy="936.3" r="3.99"/><circle cx="1243.3" cy="938.3" r="3.75"/><circle cx="1263.0" cy="936.1" r="3.28"/><circle cx="1288.2" cy="934.8" r="3.53"/><circle cx="1303.7" cy="939.3" r="3.90"/><circle cx="1528.8" cy="940.6" r="4.03"/><circle cx="1544.2" cy="939.4" r="3.73"/><circle cx="1566.6" cy="940.7" r="3.23"/><circle cx="1584.7" cy="936.0" r="3.73"/><circle cx="1216.9" cy="950.7" r="3.31"/><circle cx="1236.2" cy="955.1" r="3.81"/><circle cx="1253.0" cy="956.6" r="3.80"/><circle cx="1277.2" cy="951.0" r="3.57"/><circle cx="1291.1" cy="957.0" r="3.98"/><circle cx="1514.6" cy="954.5" r="3.56"/><circle cx="1537.8" cy="950.9" r="3.90"/><circle cx="1552.2" cy="957.8" r="3.62"/><circle cx="1574.3" cy="955.0" r="3.91"/><circle cx="1248.7" cy="972.5" r="3.90"/><circle cx="1261.4" cy="970.7" r="3.24"/><circle cx="1283.1" cy="968.3" r="3.96"/><circle cx="1303.6" cy="971.3" r="3.73"/><circle cx="1328.1" cy="975.0" r="3.66"/><circle cx="1505.4" cy="970.6" r="3.36"/><circle cx="1521.8" cy="970.4" r="3.44"/><circle cx="1544.9" cy="969.2" r="3.82"/><circle cx="1564.9" cy="967.5" r="3.52"/><circle cx="1255.1" cy="990.8" r="3.21"/><circle cx="1271.7" cy="986.7" r="3.40"/><circle cx="1297.4" cy="988.1" r="3.91"/><circle cx="1314.2" cy="987.0" r="3.76"/><circle cx="1331.7" cy="992.6" r="3.89"/><circle cx="1458.4" cy="989.8" r="3.19"/><circle cx="1478.5" cy="990.7" r="3.67"/><circle cx="1491.0" cy="990.6" r="3.53"/><circle cx="1516.4" cy="992.6" r="3.96"/><circle cx="1531.6" cy="991.0" r="3.55"/><circle cx="1262.7" cy="1005.4" r="3.63"/><circle cx="1287.7" cy="1003.0" r="3.92"/><circle cx="1304.8" cy="1002.3" r="3.54"/><circle cx="1324.0" cy="1007.4" r="3.97"/><circle cx="1344.9" cy="1007.6" r="3.50"/><circle cx="1367.2" cy="1002.9" r="3.81"/><circle cx="1382.3" cy="1006.7" r="3.34"/><circle cx="1403.8" cy="1003.4" r="3.47"/><circle cx="1425.7" cy="1006.2" r="3.50"/><circle cx="1445.6" cy="1008.8" r="3.48"/><circle cx="1465.7" cy="1005.9" r="4.02"/><circle cx="1483.6" cy="1007.6" r="3.37"/><circle cx="1503.1" cy="1007.9" r="3.66"/><circle cx="1523.1" cy="1002.6" r="3.88"/><circle cx="1298.6" cy="1025.5" r="3.86"/><circle cx="1311.8" cy="1025.6" r="3.36"/><circle cx="1332.6" cy="1023.6" r="3.69"/><circle cx="1352.0" cy="1025.5" r="3.67"/><circle cx="1378.2" cy="1026.8" r="3.76"/><circle cx="1393.9" cy="1027.0" r="3.79"/><circle cx="1413.3" cy="1026.2" r="3.80"/><circle cx="1433.1" cy="1021.4" r="3.19"/><circle cx="1455.3" cy="1021.4" r="3.42"/><circle cx="1473.0" cy="1020.4" r="3.59"/><circle cx="1493.2" cy="1021.6" r="3.41"/><circle cx="1308.6" cy="1037.6" r="3.98"/><circle cx="1326.3" cy="1037.3" r="3.95"/><circle cx="1341.8" cy="1041.2" r="3.27"/><circle cx="1368.9" cy="1039.2" r="3.92"/><circle cx="1381.5" cy="1042.0" r="3.23"/><circle cx="1401.2" cy="1041.2" r="4.02"/><circle cx="1426.5" cy="1043.5" r="3.85"/><circle cx="1445.2" cy="1037.3" r="3.62"/><circle cx="1462.5" cy="1040.9" r="3.47"/><circle cx="1485.0" cy="1038.3" r="3.78"/><circle cx="1358.7" cy="1054.2" r="3.20"/><circle cx="1395.2" cy="1058.6" r="3.82"/><circle cx="1417.5" cy="1054.0" r="3.23"/>
</g>
<path d="M1290.0,757.0 C1290.6,750.8 1290.5,743.6 1295.0,737.0 C1299.5,730.4 1307.1,722.7 1317.0,717.4 C1326.9,712.1 1341.2,707.5 1354.5,705.0 C1367.8,702.5 1380.1,700.0 1396.7,702.5 C1413.3,705.0 1436.9,710.7 1453.9,719.8 C1470.9,728.9 1486.6,743.3 1498.6,757.0 C1510.6,770.7 1520.0,786.5 1526.0,801.8 C1532.0,817.1 1533.8,833.7 1534.6,849.0 C1535.4,864.3 1534.4,878.4 1530.9,893.7 C1527.4,909.0 1522.2,927.8 1513.5,941.0 C1504.8,954.2 1492.8,964.9 1478.7,973.2 C1464.6,981.5 1445.5,987.7 1429.0,990.6 C1412.5,993.5 1393.9,992.3 1379.4,990.6 C1364.9,988.9 1351.5,986.0 1342.0,980.6 C1332.5,975.2 1325.1,964.9 1322.2,958.3 C1319.3,951.7 1322.2,945.5 1324.7,941.0 C1327.2,936.5 1330.8,934.8 1337.0,931.0 C1343.2,927.2 1355.3,924.7 1362.0,918.5 C1368.7,912.3 1373.8,902.8 1376.9,893.7 C1380.0,884.6 1381.0,874.0 1380.6,864.0 C1380.2,854.0 1378.3,843.1 1374.4,834.0 C1370.5,824.9 1364.5,815.5 1357.0,809.3 C1349.5,803.1 1338.4,800.1 1329.7,796.8 C1321.0,793.5 1311.2,793.1 1304.8,789.4 C1298.4,785.7 1293.7,779.9 1291.2,774.5 C1288.7,769.1 1289.4,763.2 1290.0,757.0Z" fill="#cae5f7" stroke="#1f2340" stroke-width="1.8"/>
<path d="M1400.0,709.0 C1400.3,707.0 1436.3,717.2 1452.0,726.0 C1467.7,734.8 1482.7,748.8 1494.0,762.0 C1505.3,775.2 1514.3,790.5 1520.0,805.0 C1525.7,819.5 1527.3,834.3 1528.0,849.0 C1528.7,863.7 1527.5,878.2 1524.0,893.0 C1520.5,907.8 1515.3,925.5 1507.0,938.0 C1498.7,950.5 1487.0,960.3 1474.0,968.0 C1461.0,975.7 1441.3,981.0 1429.0,984.0 C1416.7,987.0 1404.2,987.4 1400.0,986.0 C1395.8,984.6 1395.0,981.2 1404.0,975.7 C1413.0,970.2 1440.3,964.6 1454.0,953.0 C1467.7,941.4 1479.0,924.2 1486.0,906.0 C1493.0,887.8 1496.0,865.5 1496.0,844.0 C1496.0,822.5 1493.7,794.7 1486.0,777.0 C1478.3,759.3 1464.3,749.3 1450.0,738.0 C1435.7,726.7 1399.7,711.0 1400.0,709.0Z" fill="#f4fafd"/>
<path d="M1297.0,768.0 C1296.7,771.0 1304.2,778.3 1310.0,782.0 C1315.8,785.7 1324.0,786.8 1332.0,790.0 C1340.0,793.2 1350.7,795.7 1358.0,801.0 C1365.3,806.3 1371.3,819.8 1376.0,822.0 C1380.7,824.2 1385.7,818.3 1386.0,814.0 C1386.3,809.7 1384.8,801.8 1378.0,796.0 C1371.2,790.2 1356.0,784.3 1345.0,779.0 C1334.0,773.7 1320.0,765.8 1312.0,764.0 C1304.0,762.2 1297.3,765.0 1297.0,768.0Z" fill="#eef7fc"/>
<circle cx="1306" cy="874" r="48" fill="#fcc65d" stroke="#2b2208" stroke-width="2.2"/>
<circle cx="1306" cy="874" r="13" fill="#1c0b2c"/><circle cx="1294" cy="867" r="8" fill="#fdfbff"/>
<path d="M2085.2,464.5 L2084.8,482.2 L2083.1,499.9 L2080.1,517.4 L2075.8,534.6 L2070.1,551.4 L2063.2,567.7 L2055.1,583.5 L2045.8,598.5 L2035.5,612.8 L2024.1,626.2 L2011.9,638.8 L1998.8,650.4 L1985.0,661.1 L1970.6,670.8 L1955.6,679.6 L1940.1,687.4 L1924.2,694.2 L1907.9,700.1 L1891.4,705.0 L1874.5,708.9 L1857.4,711.8 L1840.1,713.7 L1822.7,714.5 L1805.1,714.3 L1787.6,712.9 L1770.1,710.3 L1752.8,706.6 L1735.6,701.5 L1718.9,695.2 L1702.6,687.7 L1686.9,678.8 L1671.9,668.7 L1657.7,657.4 L1644.5,645.0 L1632.4,631.5 L1621.5,617.0 L1611.8,601.7 L1603.4,585.7 L1596.3,569.2 L1590.6,552.2 L1586.2,534.8 L1583.2,517.3 L1581.4,499.7 L1580.8,482.0 L1581.4,464.5 L1583.1,447.1 L1585.8,430.0 L1589.6,413.1 L1594.3,396.5 L1599.9,380.2 L1606.4,364.3 L1613.7,348.8 L1621.9,333.6 L1631.0,318.9 L1641.0,304.8 L1651.9,291.2 L1663.6,278.2 L1676.3,266.0 L1689.8,254.6 L1704.1,244.1 L1719.3,234.6 L1735.2,226.3 L1751.7,219.2 L1768.8,213.5 L1786.4,209.0 L1804.2,206.1 L1822.3,204.5 L1840.5,204.5 L1858.6,205.9 L1876.5,208.8 L1894.1,213.0 L1911.3,218.6 L1928.0,225.5 L1944.1,233.5 L1959.5,242.7 L1974.2,252.8 L1988.1,263.9 L2001.3,275.8 L2013.6,288.6 L2025.1,302.0 L2035.6,316.1 L2045.3,330.8 L2054.0,346.1 L2061.8,361.9 L2068.5,378.2 L2074.2,394.9 L2078.7,411.9 L2082.1,429.3 L2084.3,446.8Z" fill="#eeb1c3"/>
<circle cx="1808" cy="521" r="58" fill="#fcf1f5"/>
<g fill="#4a1026">
<circle cx="1789.2" cy="208.7" r="3.32"/><circle cx="1809.6" cy="209.9" r="3.18"/><circle cx="1826.2" cy="209.9" r="2.87"/><circle cx="1844.4" cy="213.5" r="2.75"/><circle cx="1860.6" cy="209.5" r="2.77"/><circle cx="1873.9" cy="207.9" r="3.28"/><circle cx="1745.0" cy="228.3" r="3.11"/><circle cx="1761.7" cy="221.8" r="3.10"/><circle cx="1778.4" cy="225.8" r="3.20"/><circle cx="1797.2" cy="222.4" r="3.10"/><circle cx="1814.9" cy="226.3" r="3.45"/><circle cx="1831.0" cy="224.9" r="2.79"/><circle cx="1852.1" cy="223.5" r="3.34"/><circle cx="1869.6" cy="223.6" r="3.40"/><circle cx="1885.0" cy="224.8" r="3.14"/><circle cx="1905.6" cy="225.2" r="3.09"/><circle cx="1918.5" cy="227.7" r="3.10"/><circle cx="1704.6" cy="241.3" r="2.82"/><circle cx="1720.3" cy="237.4" r="3.37"/><circle cx="1738.1" cy="242.5" r="3.38"/><circle cx="1754.2" cy="243.6" r="3.20"/><circle cx="1771.2" cy="239.7" r="2.99"/><circle cx="1785.4" cy="238.1" r="3.32"/><circle cx="1804.4" cy="241.5" r="3.30"/><circle cx="1825.1" cy="240.6" r="2.96"/><circle cx="1839.7" cy="238.3" r="3.21"/><circle cx="1860.1" cy="243.6" r="2.97"/><circle cx="1879.2" cy="243.3" r="2.94"/><circle cx="1896.9" cy="241.3" r="3.44"/><circle cx="1913.2" cy="239.3" r="2.94"/><circle cx="1928.9" cy="240.4" r="2.75"/><circle cx="1948.8" cy="240.7" r="3.08"/><circle cx="1694.4" cy="252.5" r="2.84"/><circle cx="1710.4" cy="254.0" r="3.26"/><circle cx="1729.1" cy="254.4" r="3.30"/><circle cx="1746.0" cy="257.1" r="3.07"/><circle cx="1762.0" cy="252.9" r="3.08"/><circle cx="1903.3" cy="252.4" r="3.26"/><circle cx="1917.4" cy="252.5" r="3.08"/><circle cx="1934.1" cy="252.6" r="3.02"/><circle cx="1954.8" cy="252.9" r="3.44"/><circle cx="1975.0" cy="255.5" r="3.17"/><circle cx="1668.9" cy="270.5" r="3.01"/><circle cx="1686.5" cy="274.1" r="3.31"/><circle cx="1700.6" cy="272.0" r="3.28"/><circle cx="1717.3" cy="272.3" r="3.43"/><circle cx="1945.5" cy="271.4" r="3.26"/><circle cx="1965.6" cy="272.5" r="3.16"/><circle cx="1979.5" cy="272.2" r="3.15"/><circle cx="1999.1" cy="274.2" r="2.83"/><circle cx="1658.0" cy="289.1" r="2.99"/><circle cx="1676.8" cy="283.0" r="2.95"/><circle cx="1693.8" cy="287.3" r="3.34"/><circle cx="1709.2" cy="284.3" r="2.99"/><circle cx="1972.1" cy="288.1" r="3.15"/><circle cx="1990.8" cy="289.3" r="2.89"/><circle cx="2005.6" cy="286.8" r="2.84"/><circle cx="1650.1" cy="298.0" r="3.35"/><circle cx="1666.6" cy="301.7" r="2.80"/><circle cx="1680.6" cy="300.1" r="3.46"/><circle cx="1998.1" cy="300.3" r="3.10"/><circle cx="2016.0" cy="301.3" r="3.12"/><circle cx="1639.3" cy="316.6" r="3.38"/><circle cx="1660.9" cy="319.2" r="3.35"/><circle cx="1672.0" cy="314.5" r="3.45"/><circle cx="2010.7" cy="316.7" r="2.80"/><circle cx="2026.0" cy="314.6" r="3.33"/><circle cx="1629.0" cy="332.3" r="3.19"/><circle cx="1651.8" cy="328.2" r="3.15"/><circle cx="2014.4" cy="329.2" r="3.27"/><circle cx="2030.8" cy="333.9" r="2.75"/><circle cx="1619.2" cy="349.2" r="3.01"/><circle cx="1637.1" cy="343.4" r="3.36"/><circle cx="2024.3" cy="349.0" r="3.30"/><circle cx="2039.8" cy="349.9" r="3.28"/><circle cx="1617.0" cy="359.2" r="3.03"/><circle cx="1631.7" cy="359.1" r="3.31"/><circle cx="2030.5" cy="361.1" r="2.86"/><circle cx="2052.9" cy="362.2" r="3.23"/><circle cx="1607.5" cy="376.0" r="2.81"/><circle cx="1623.5" cy="373.5" r="2.90"/><circle cx="1636.7" cy="374.5" r="2.78"/><circle cx="2043.7" cy="374.4" r="2.84"/><circle cx="2059.5" cy="377.6" r="3.30"/><circle cx="1599.0" cy="391.9" r="2.83"/><circle cx="1611.2" cy="394.7" r="3.29"/><circle cx="1628.2" cy="393.2" r="2.89"/><circle cx="2048.6" cy="389.2" r="2.85"/><circle cx="2071.0" cy="392.0" r="3.21"/><circle cx="1606.4" cy="407.9" r="3.18"/><circle cx="1624.4" cy="407.9" r="3.38"/><circle cx="2043.2" cy="403.8" r="3.07"/><circle cx="2060.7" cy="405.9" r="2.75"/><circle cx="2076.9" cy="406.1" r="3.45"/><circle cx="1593.6" cy="424.5" r="2.80"/><circle cx="1614.2" cy="419.5" r="2.80"/><circle cx="2052.5" cy="419.6" r="2.83"/><circle cx="2066.6" cy="422.6" r="3.16"/><circle cx="2082.8" cy="425.7" r="3.35"/><circle cx="1589.8" cy="440.8" r="2.86"/><circle cx="1606.8" cy="439.7" r="3.43"/><circle cx="1620.5" cy="434.8" r="2.85"/><circle cx="2044.4" cy="439.1" r="2.95"/><circle cx="2059.7" cy="436.5" r="3.08"/><circle cx="2079.6" cy="435.8" r="3.33"/><circle cx="1582.0" cy="455.7" r="2.86"/><circle cx="1599.7" cy="450.5" r="3.33"/><circle cx="1611.1" cy="451.3" r="3.06"/><circle cx="1805.6" cy="453.0" r="3.03"/><circle cx="1824.2" cy="451.2" r="2.74"/><circle cx="1842.5" cy="451.5" r="3.09"/><circle cx="2053.6" cy="455.4" r="3.27"/><circle cx="2070.0" cy="452.4" r="3.12"/><circle cx="2086.8" cy="452.8" r="3.34"/><circle cx="1589.3" cy="468.6" r="3.17"/><circle cx="1607.9" cy="464.6" r="3.08"/><circle cx="1831.4" cy="465.0" r="3.39"/><circle cx="1853.0" cy="465.2" r="3.06"/><circle cx="1865.9" cy="469.0" r="2.81"/><circle cx="2061.6" cy="470.2" r="2.76"/><circle cx="2075.7" cy="466.0" r="3.31"/><circle cx="1599.6" cy="484.5" r="3.08"/><circle cx="1862.2" cy="482.6" r="3.23"/><circle cx="2052.6" cy="485.8" r="3.23"/><circle cx="2065.4" cy="485.5" r="3.18"/><circle cx="1584.5" cy="499.2" r="2.77"/><circle cx="1606.3" cy="501.0" r="3.22"/><circle cx="1865.9" cy="499.4" r="2.80"/><circle cx="2042.7" cy="495.1" r="2.99"/><circle cx="2058.5" cy="500.3" r="3.30"/><circle cx="2078.9" cy="498.8" r="3.37"/><circle cx="1598.6" cy="516.7" r="3.30"/><circle cx="1611.4" cy="513.7" r="3.19"/><circle cx="1737.0" cy="512.0" r="3.22"/><circle cx="1872.8" cy="515.3" r="2.77"/><circle cx="2049.7" cy="511.8" r="3.39"/><circle cx="2067.7" cy="515.2" r="3.00"/><circle cx="2084.1" cy="509.8" r="3.44"/><circle cx="1588.1" cy="525.3" r="2.85"/><circle cx="1601.8" cy="529.2" r="3.19"/><circle cx="1625.7" cy="527.0" r="2.90"/><circle cx="1724.7" cy="525.1" r="3.18"/><circle cx="1747.6" cy="525.3" r="3.25"/><circle cx="1870.4" cy="525.4" r="2.95"/><circle cx="2044.5" cy="524.9" r="3.14"/><circle cx="2060.3" cy="529.9" r="3.43"/><circle cx="2078.9" cy="526.5" r="2.88"/><circle cx="1597.6" cy="543.0" r="2.77"/><circle cx="1611.1" cy="546.6" r="3.36"/><circle cx="1633.9" cy="542.8" r="3.46"/><circle cx="1646.4" cy="545.1" r="3.43"/><circle cx="1703.4" cy="544.3" r="3.08"/><circle cx="1716.1" cy="544.6" r="2.83"/><circle cx="1733.7" cy="544.2" r="3.21"/><circle cx="2036.9" cy="543.6" r="2.84"/><circle cx="2051.7" cy="540.5" r="3.07"/><circle cx="2065.8" cy="543.0" r="3.34"/><circle cx="1605.5" cy="558.1" r="2.84"/><circle cx="1622.2" cy="555.7" r="2.82"/><circle cx="1637.1" cy="558.2" r="2.83"/><circle cx="1659.8" cy="559.5" r="3.37"/><circle cx="1675.4" cy="556.3" r="2.93"/><circle cx="1694.9" cy="559.3" r="3.21"/><circle cx="1710.9" cy="555.6" r="2.88"/><circle cx="1727.0" cy="561.1" r="3.43"/><circle cx="1745.6" cy="557.0" r="2.76"/><circle cx="1865.7" cy="559.5" r="3.41"/><circle cx="2021.8" cy="559.5" r="2.91"/><circle cx="2039.7" cy="560.7" r="2.83"/><circle cx="2061.8" cy="557.1" r="3.00"/><circle cx="1597.1" cy="574.5" r="2.97"/><circle cx="1612.9" cy="574.4" r="2.91"/><circle cx="1632.2" cy="576.4" r="3.26"/><circle cx="1646.8" cy="570.6" r="3.00"/><circle cx="1665.8" cy="576.3" r="3.13"/><circle cx="1683.9" cy="574.6" r="3.14"/><circle cx="1702.5" cy="574.3" r="3.14"/><circle cx="1716.9" cy="571.2" r="3.06"/><circle cx="1739.0" cy="577.0" r="2.95"/><circle cx="1754.3" cy="574.0" r="3.07"/><circle cx="1769.0" cy="575.9" r="2.79"/><circle cx="1839.0" cy="574.9" r="3.17"/><circle cx="1859.6" cy="573.7" r="3.18"/><circle cx="2019.4" cy="577.2" r="3.10"/><circle cx="2037.2" cy="574.7" r="3.01"/><circle cx="2048.4" cy="570.5" r="3.17"/><circle cx="1606.2" cy="589.5" r="2.80"/><circle cx="1623.7" cy="590.5" r="3.05"/><circle cx="1643.3" cy="588.9" r="2.85"/><circle cx="1657.6" cy="588.0" r="2.85"/><circle cx="1677.7" cy="586.8" r="3.26"/><circle cx="1690.2" cy="589.1" r="3.47"/><circle cx="1707.1" cy="591.5" r="2.73"/><circle cx="1730.8" cy="591.9" r="3.06"/><circle cx="1746.0" cy="588.7" r="2.85"/><circle cx="1761.5" cy="588.6" r="3.38"/><circle cx="1777.3" cy="589.3" r="3.08"/><circle cx="1797.9" cy="591.1" r="3.17"/><circle cx="1813.8" cy="592.2" r="3.17"/><circle cx="1830.9" cy="589.4" r="3.37"/><circle cx="1846.8" cy="590.1" r="3.09"/><circle cx="1866.0" cy="586.6" r="2.90"/><circle cx="2007.1" cy="590.3" r="2.92"/><circle cx="2027.5" cy="587.4" r="3.38"/><circle cx="2042.1" cy="588.3" r="3.16"/><circle cx="1612.2" cy="600.9" r="2.86"/><circle cx="1631.2" cy="606.6" r="2.74"/><circle cx="1646.4" cy="600.8" r="2.77"/><circle cx="1665.0" cy="604.1" r="3.45"/><circle cx="1684.8" cy="606.7" r="3.17"/><circle cx="1704.1" cy="605.4" r="2.91"/><circle cx="1717.9" cy="604.0" r="2.81"/><circle cx="1739.2" cy="604.1" r="2.88"/><circle cx="1753.7" cy="606.3" r="2.93"/><circle cx="1771.9" cy="601.3" r="2.91"/><circle cx="1786.6" cy="604.2" r="3.24"/><circle cx="1804.3" cy="605.5" r="3.16"/><circle cx="1825.5" cy="607.7" r="2.98"/><circle cx="1844.7" cy="603.9" r="3.11"/><circle cx="1856.5" cy="601.3" r="3.21"/><circle cx="1980.9" cy="604.5" r="3.25"/><circle cx="2001.1" cy="606.2" r="2.91"/><circle cx="2018.2" cy="601.4" r="2.82"/><circle cx="2033.8" cy="602.0" r="3.15"/><circle cx="1623.8" cy="618.1" r="3.12"/><circle cx="1639.0" cy="618.6" r="3.30"/><circle cx="1654.0" cy="619.2" r="3.11"/><circle cx="1672.5" cy="621.0" r="2.92"/><circle cx="1691.8" cy="617.6" r="3.17"/><circle cx="1709.5" cy="620.6" r="3.04"/><circle cx="1729.5" cy="619.7" r="2.81"/><circle cx="1744.9" cy="617.6" r="2.95"/><circle cx="1765.6" cy="619.2" r="3.28"/><circle cx="1777.6" cy="620.2" r="2.82"/><circle cx="1795.6" cy="616.7" r="2.75"/><circle cx="1817.9" cy="622.6" r="3.00"/><circle cx="1829.1" cy="621.0" r="3.22"/><circle cx="1846.8" cy="621.2" r="2.78"/><circle cx="1865.6" cy="621.3" r="3.30"/><circle cx="1955.2" cy="620.0" r="3.07"/><circle cx="1973.5" cy="619.8" r="3.21"/><circle cx="1989.4" cy="621.7" r="3.12"/><circle cx="2010.2" cy="622.7" r="3.34"/><circle cx="2026.9" cy="620.7" r="3.14"/><circle cx="1630.9" cy="634.0" r="3.20"/><circle cx="1650.5" cy="636.4" r="3.33"/><circle cx="1667.8" cy="637.8" r="3.06"/><circle cx="1683.4" cy="635.6" r="2.96"/><circle cx="1703.6" cy="633.9" r="3.14"/><circle cx="1718.9" cy="633.5" r="2.74"/><circle cx="1734.7" cy="634.3" r="3.44"/><circle cx="1751.2" cy="637.3" r="3.45"/><circle cx="1773.3" cy="633.0" r="2.74"/><circle cx="1791.4" cy="631.5" r="2.95"/><circle cx="1809.3" cy="635.7" r="3.34"/><circle cx="1826.1" cy="632.2" r="3.10"/><circle cx="1838.4" cy="633.6" r="3.10"/><circle cx="1861.0" cy="633.0" r="3.22"/><circle cx="1873.7" cy="632.8" r="2.77"/><circle cx="1894.3" cy="635.1" r="3.26"/><circle cx="1910.7" cy="637.6" r="3.27"/><circle cx="1929.2" cy="637.1" r="2.86"/><circle cx="1944.8" cy="634.9" r="3.17"/><circle cx="1966.9" cy="635.7" r="2.76"/><circle cx="1984.4" cy="634.3" r="2.88"/><circle cx="2000.6" cy="635.4" r="3.36"/><circle cx="2016.6" cy="632.8" r="3.08"/><circle cx="1660.7" cy="650.9" r="2.86"/><circle cx="1676.6" cy="647.2" r="3.01"/><circle cx="1691.6" cy="648.5" r="3.00"/><circle cx="1707.6" cy="649.0" r="2.80"/><circle cx="1729.6" cy="648.6" r="3.26"/><circle cx="1744.5" cy="653.0" r="3.38"/><circle cx="1763.9" cy="652.0" r="3.41"/><circle cx="1783.0" cy="649.0" r="3.17"/><circle cx="1794.5" cy="648.7" r="2.97"/><circle cx="1815.9" cy="646.2" r="3.29"/><circle cx="1829.5" cy="649.1" r="3.09"/><circle cx="1852.4" cy="650.6" r="2.84"/><circle cx="1868.7" cy="647.8" r="3.19"/><circle cx="1884.4" cy="652.8" r="3.06"/><circle cx="1900.9" cy="648.3" r="3.44"/><circle cx="1918.9" cy="647.8" r="3.13"/><circle cx="1938.7" cy="652.7" r="2.79"/><circle cx="1953.8" cy="651.2" r="3.10"/><circle cx="1973.8" cy="650.9" r="2.80"/><circle cx="1986.9" cy="647.4" r="2.95"/><circle cx="2005.3" cy="648.2" r="2.81"/><circle cx="1666.5" cy="662.4" r="2.78"/><circle cx="1686.8" cy="667.9" r="3.47"/><circle cx="1701.6" cy="666.4" r="3.18"/><circle cx="1718.6" cy="662.5" r="3.21"/><circle cx="1735.9" cy="666.1" r="2.76"/><circle cx="1752.3" cy="662.1" r="3.30"/><circle cx="1771.1" cy="663.3" r="3.31"/><circle cx="1788.9" cy="663.3" r="3.02"/><circle cx="1802.8" cy="661.7" r="2.76"/><circle cx="1827.0" cy="667.5" r="3.13"/><circle cx="1844.3" cy="665.1" r="3.24"/><circle cx="1856.0" cy="664.4" r="3.18"/><circle cx="1875.6" cy="665.9" r="2.98"/><circle cx="1894.8" cy="662.8" r="3.09"/><circle cx="1910.7" cy="665.0" r="2.77"/><circle cx="1926.9" cy="666.3" r="2.85"/><circle cx="1946.1" cy="668.3" r="3.18"/><circle cx="1965.4" cy="666.7" r="3.45"/><circle cx="1980.5" cy="664.1" r="3.29"/><circle cx="1692.6" cy="679.7" r="2.85"/><circle cx="1708.4" cy="677.8" r="2.85"/><circle cx="1724.3" cy="681.0" r="3.22"/><circle cx="1743.3" cy="683.1" r="3.04"/><circle cx="1762.2" cy="683.0" r="3.21"/><circle cx="1779.8" cy="681.7" r="3.28"/><circle cx="1796.2" cy="676.9" r="3.27"/><circle cx="1816.7" cy="680.7" r="2.82"/><circle cx="1834.2" cy="677.7" r="3.32"/><circle cx="1850.9" cy="680.9" r="2.78"/><circle cx="1866.6" cy="681.6" r="2.81"/><circle cx="1881.8" cy="679.4" r="3.36"/><circle cx="1903.4" cy="678.1" r="2.79"/><circle cx="1922.4" cy="682.4" r="3.25"/><circle cx="1935.4" cy="681.7" r="2.74"/><circle cx="1952.7" cy="678.7" r="3.44"/><circle cx="1720.3" cy="696.9" r="2.85"/><circle cx="1737.4" cy="694.7" r="2.89"/><circle cx="1752.2" cy="694.2" r="3.27"/><circle cx="1771.6" cy="693.9" r="2.77"/><circle cx="1790.8" cy="696.9" r="3.35"/><circle cx="1808.3" cy="692.1" r="2.94"/><circle cx="1823.5" cy="693.7" r="3.34"/><circle cx="1839.2" cy="691.7" r="3.06"/><circle cx="1855.6" cy="691.8" r="3.18"/><circle cx="1877.0" cy="695.4" r="2.78"/><circle cx="1894.2" cy="695.3" r="2.95"/><circle cx="1909.3" cy="692.7" r="3.09"/><circle cx="1927.8" cy="695.7" r="3.23"/><circle cx="1777.1" cy="707.3" r="2.79"/><circle cx="1799.5" cy="713.4" r="3.41"/><circle cx="1815.2" cy="707.4" r="3.31"/><circle cx="1832.5" cy="712.2" r="3.20"/><circle cx="1850.5" cy="708.0" r="2.83"/><circle cx="1864.6" cy="709.8" r="2.94"/><circle cx="1888.2" cy="707.1" r="3.29"/>
</g>
<rect x="1500" y="0" width="712" height="210" fill="#fff"/>
<path d="M1615.4,493.3 C1614.0,480.5 1618.8,465.2 1622.0,448.8 C1625.2,432.4 1628.4,413.1 1634.9,394.7 C1641.4,376.3 1650.1,354.7 1660.9,338.5 C1671.7,322.3 1682.5,310.0 1699.8,297.4 C1717.1,284.8 1741.3,270.6 1764.7,262.7 C1788.1,254.8 1820.1,250.9 1840.0,249.8 C1859.9,248.7 1867.6,252.0 1884.0,256.3 C1900.4,260.6 1922.0,267.8 1938.2,275.7 C1954.5,283.6 1968.9,292.0 1981.5,303.9 C1994.1,315.8 2004.9,330.2 2013.9,347.1 C2022.9,364.0 2031.2,385.0 2035.5,405.5 C2039.8,426.0 2039.5,453.6 2039.9,470.0 C2040.3,486.4 2041.0,490.0 2037.7,504.0 C2034.5,518.0 2029.8,538.4 2020.4,553.9 C2011.0,569.4 1995.2,585.6 1981.5,597.1 C1967.8,608.6 1950.8,617.3 1938.2,623.1 C1925.6,628.9 1915.4,632.4 1905.7,631.7 C1896.0,631.0 1885.6,625.6 1879.8,618.8 C1874.0,611.9 1871.8,600.7 1871.1,590.6 C1870.4,580.5 1873.6,570.8 1875.4,558.2 C1877.2,545.6 1882.3,528.7 1882.0,515.0 C1881.7,501.3 1877.3,486.0 1873.3,476.0 C1869.3,466.0 1863.9,460.7 1858.0,455.0 C1852.1,449.3 1845.7,443.7 1838.0,442.0 C1830.3,440.3 1820.7,442.0 1812.0,445.0 C1803.3,448.0 1795.7,452.7 1786.0,460.0 C1776.3,467.3 1764.7,478.8 1753.9,489.0 C1743.1,499.2 1732.2,512.8 1721.4,521.4 C1710.6,530.0 1699.8,537.3 1689.0,540.9 C1678.2,544.5 1666.2,545.5 1656.5,543.0 C1646.8,540.5 1637.4,534.0 1630.6,525.7 C1623.8,517.4 1616.8,506.1 1615.4,493.3Z" fill="#cae5f7" stroke="#1f2340" stroke-width="1.8"/>
<path d="M1680.0,335.0 C1678.3,332.2 1685.8,312.3 1700.0,301.0 C1714.2,289.7 1741.7,274.8 1765.0,267.0 C1788.3,259.2 1820.2,255.2 1840.0,254.0 C1859.8,252.8 1868.0,255.8 1884.0,260.0 C1900.0,264.2 1920.3,271.2 1936.0,279.0 C1951.7,286.8 1965.8,295.3 1978.0,307.0 C1990.2,318.7 2000.2,332.5 2009.0,349.0 C2017.8,365.5 2026.7,385.8 2031.0,406.0 C2035.3,426.2 2034.7,453.7 2035.0,470.0 C2035.3,486.3 2036.2,490.3 2033.0,504.0 C2029.8,517.7 2025.2,537.0 2016.0,552.0 C2006.8,567.0 1992.3,582.3 1978.0,594.0 C1963.7,605.7 1933.0,622.6 1930.0,622.0 C1927.0,621.4 1949.4,602.0 1959.8,590.6 C1970.2,579.2 1984.4,568.3 1992.3,553.9 C2000.2,539.5 2004.5,518.0 2007.4,504.0 C2010.3,490.0 2010.3,484.6 2009.6,470.0 C2008.9,455.4 2007.7,433.3 2003.0,416.4 C1998.3,399.5 1990.5,384.7 1981.5,368.8 C1972.5,352.9 1963.4,335.6 1949.0,321.2 C1934.6,306.8 1913.2,290.1 1895.0,282.2 C1876.8,274.3 1861.7,272.2 1840.0,273.6 C1818.3,275.1 1786.4,283.5 1764.7,290.9 C1743.0,298.3 1724.1,310.6 1710.0,318.0 C1695.9,325.4 1681.7,337.8 1680.0,335.0Z" fill="#f4fafd"/>
<path d="M1624.0,512.0 C1619.2,513.5 1626.7,519.7 1632.0,524.0 C1637.3,528.3 1646.5,536.0 1656.0,538.0 C1665.5,540.0 1678.2,539.5 1689.0,536.0 C1699.8,532.5 1710.2,525.5 1721.0,517.0 C1731.8,508.5 1743.2,495.2 1754.0,485.0 C1764.8,474.8 1776.3,463.3 1786.0,456.0 C1795.7,448.7 1803.3,444.0 1812.0,441.0 C1820.7,438.0 1831.3,437.7 1838.0,438.0 C1844.7,438.3 1853.3,446.2 1852.0,443.0 C1850.7,439.8 1839.2,422.7 1830.0,419.0 C1820.8,415.3 1811.2,414.0 1797.0,421.0 C1782.8,428.0 1761.3,447.8 1745.0,461.0 C1728.7,474.2 1713.0,491.0 1699.0,500.0 C1685.0,509.0 1673.5,513.0 1661.0,515.0 C1648.5,517.0 1628.8,510.5 1624.0,512.0Z" fill="#f4fafd"/>
<circle cx="1808" cy="521" r="50" fill="#fcc65d" stroke="#2b2208" stroke-width="2.2"/>
<circle cx="1808" cy="523" r="12.7" fill="#1c0b2c"/><circle cx="1810" cy="509" r="7.5" fill="#fdfbff"/>
<path d="M208.5,359.5 C217.2,357.0 242.1,348.5 261.0,344.3 C279.9,340.1 301.7,337.1 322.0,334.5 C342.3,331.9 360.0,330.3 383.0,329.0 C406.0,327.7 437.0,326.7 460.0,326.6 C483.0,326.5 500.7,327.4 521.0,328.4 C541.3,329.4 561.7,331.0 582.0,332.7 C602.3,334.4 628.8,337.2 643.0,338.8 C657.2,340.4 663.4,341.9 667.5,342.5 L673.0,326.6 L722.4,363.2 L663.8,380.9 L665.0,363.2 C661.3,362.9 656.8,362.7 643.0,361.4 C629.2,360.1 602.3,357.1 582.0,355.3 C561.7,353.5 541.3,351.4 521.0,350.4 C500.7,349.4 483.0,349.3 460.0,349.2 C437.0,349.1 406.0,349.5 383.0,349.8 C360.0,350.1 342.3,350.1 322.0,351.0 C301.7,351.9 279.9,353.9 261.0,355.3 C242.1,356.7 217.2,358.8 208.5,359.5Z" fill="#767676" stroke="#5a5a5a" stroke-width="1.3"/>
<path d="M339.9,658.2 C346.9,651.7 366.4,631.3 382.1,619.2 C397.8,607.1 416.8,595.9 434.2,585.8 C451.6,575.7 471.9,565.6 486.2,558.8 C500.6,551.9 506.1,550.3 520.0,544.6 C533.9,538.9 553.1,530.7 569.7,524.7 C586.3,518.7 602.9,513.6 619.5,508.8 C636.1,504.0 659.3,498.5 669.2,495.8 C679.1,493.1 677.5,493.3 679.1,492.8 L675.2,477.4 L730.9,492.8 L695.0,528.7 L688.1,515.7 C685.0,516.5 680.6,517.6 669.2,520.7 C657.8,523.9 636.1,529.5 619.5,534.6 C602.9,539.7 586.3,545.7 569.7,551.5 C553.1,557.3 542.6,560.9 520.0,569.4 C497.4,577.9 457.2,592.5 434.2,602.5 C411.2,612.5 397.8,620.3 382.1,629.6 C366.4,638.9 346.9,653.4 339.9,658.2Z" fill="#767676" stroke="#5a5a5a" stroke-width="1.3"/>
<path d="M669.6,811.9 C674.4,804.8 689.4,781.1 698.5,769.0 C707.6,756.9 714.5,749.1 724.1,739.5 C733.7,729.9 745.5,719.6 756.2,711.3 C766.9,703.0 780.7,694.4 788.2,689.5 C795.7,684.6 798.9,683.1 801.0,681.8 L802.3,667.0 L822.8,678.0 L809.4,704.9 L804.9,698.5 C802.1,700.0 796.3,702.7 788.2,707.4 C780.1,712.1 766.9,719.2 756.2,726.7 C745.5,734.2 733.7,743.8 724.1,752.3 C714.5,760.8 707.6,768.1 698.5,778.0 C689.4,787.9 674.4,806.2 669.6,811.9Z" fill="#767676" stroke="#5a5a5a" stroke-width="1.3"/>
<path d="M1469.2,637.2 C1466.0,631.9 1458.4,615.5 1450.2,605.1 C1442.0,594.8 1431.8,585.1 1420.1,575.1 C1408.4,565.1 1393.3,553.7 1380.0,545.0 C1366.7,536.3 1350.3,528.3 1340.0,523.0 C1329.7,517.7 1327.9,517.3 1318.2,513.3 C1308.5,509.3 1291.1,502.3 1282.1,498.9 C1273.1,495.5 1267.1,494.1 1264.1,493.1 L1269.1,478.3 L1221.9,493.1 L1237.4,524.8 L1247.5,513.3 C1253.3,515.5 1270.3,522.0 1282.1,526.3 C1293.9,530.6 1308.5,535.4 1318.2,539.2 C1327.9,543.0 1329.7,543.9 1340.0,549.0 C1350.3,554.1 1366.7,562.1 1380.0,570.0 C1393.3,577.9 1408.4,588.1 1420.1,596.1 C1431.8,604.1 1442.0,611.2 1450.2,618.1 C1458.4,625.0 1466.0,634.0 1469.2,637.2Z" fill="#767676" stroke="#5a5a5a" stroke-width="1.3"/>
<path d="M1577.2,401.5 C1568.6,398.6 1541.7,388.5 1525.6,383.9 C1509.5,379.3 1495.5,377.2 1480.4,373.9 C1465.3,370.6 1450.3,366.6 1435.2,364.0 C1420.1,361.4 1408.0,359.9 1390.0,358.6 C1372.0,357.3 1345.7,356.4 1327.4,356.4 C1309.1,356.3 1295.3,357.4 1280.0,358.3 C1264.7,359.2 1242.8,361.4 1235.3,362.0 L1230.6,347.3 L1194.0,376.8 L1236.7,394.3 L1238.2,380.6 C1245.2,380.4 1265.1,380.2 1280.0,379.6 C1294.9,379.0 1309.1,376.9 1327.4,376.8 C1345.7,376.7 1372.0,378.0 1390.0,378.9 C1408.0,379.8 1420.1,380.7 1435.2,382.1 C1450.3,383.5 1465.3,385.6 1480.4,387.5 C1495.5,389.4 1509.5,391.5 1525.6,393.8 C1541.7,396.1 1568.6,400.2 1577.2,401.5Z" fill="#767676" stroke="#5a5a5a" stroke-width="1.3"/>
<path d="M150.4,470.7 C150.8,481.1 150.4,517.0 152.6,533.0 C154.8,549.0 157.7,554.4 163.3,566.6 C168.9,578.8 182.3,599.6 186.1,606.2 L193.0,597.0 L212.0,632.0 L182.3,636.6 L180.0,613.8 C175.7,607.4 161.5,590.7 154.2,575.7 C146.8,560.7 140.1,538.5 135.9,524.0 C131.7,509.6 130.2,494.8 129.0,489.0Z" fill="#c6e2f5" stroke="#3a4a56" stroke-width="1.5"/>
<path d="M376.2,827.2 C382.3,836.5 401.3,868.4 412.7,883.0 C424.1,897.6 432.9,906.2 444.7,915.0 C456.4,923.8 474.9,931.7 483.2,935.5 C491.5,939.3 492.8,937.6 494.7,938.0 L494.7,924.0 L533.2,946.4 L506.3,966.3 L494.7,947.0 C492.8,946.6 491.5,947.9 483.2,944.5 C474.9,941.1 457.5,934.4 444.7,926.5 C431.9,918.6 419.0,907.9 406.3,897.0 C393.6,886.1 374.8,867.2 368.5,861.2Z" fill="#c6e2f5" stroke="#3a4a56" stroke-width="1.5"/>
<path d="M865.9,923.1 C877.7,927.7 915.3,943.6 936.8,950.6 C958.3,957.6 975.4,962.5 994.7,965.1 C1014.0,967.8 1033.7,968.0 1052.5,966.5 C1071.3,965.0 1098.3,958.1 1107.5,956.4 L1088.7,938.3 L1156.7,932.5 L1145.1,980.3 L1116.2,965.1 C1105.6,967.8 1072.8,977.6 1052.5,981.0 C1032.2,984.4 1014.0,985.6 994.7,985.4 C975.4,985.2 955.4,982.3 936.8,979.6 C918.2,976.9 892.2,971.1 883.3,969.4Z" fill="#c6e2f5" stroke="#3a4a56" stroke-width="1.5"/>
<path d="M1616.7,841.0 C1622.5,837.2 1639.1,827.8 1651.3,818.0 C1663.5,808.2 1679.5,792.0 1689.7,782.0 C1700.0,772.0 1708.1,763.5 1712.8,757.7 C1717.5,751.9 1717.1,749.1 1718.0,747.4 L1705.1,748.0 L1727.6,717.3 L1742.3,739.1 L1724.4,744.9 C1724.0,746.8 1725.4,749.8 1721.8,756.4 C1718.2,763.0 1711.1,774.1 1702.6,784.6 C1694.0,795.1 1681.2,808.3 1670.5,819.2 C1659.8,830.1 1643.8,844.9 1638.5,850.0Z" fill="#c6e2f5" stroke="#3a4a56" stroke-width="1.5"/>
<g fill="#000" font-size="41.4">
<text x="234" y="452" text-anchor="end">Primordialfollikar</text>
<text x="315" y="836" text-anchor="end">Tidig primärfollikel</text>
<text x="425" y="1113">Sen primärfollikel</text>
<text x="1261.5" y="1123">Sekundärfollikel</text>
<text x="1911.7" y="762">Graafs follikel</text>
<text x="968" y="273" text-anchor="middle">Atretiska folliklar</text>
<text x="969" y="323" text-anchor="middle">(Apoptos)</text>
</g>
</svg></body></html>
